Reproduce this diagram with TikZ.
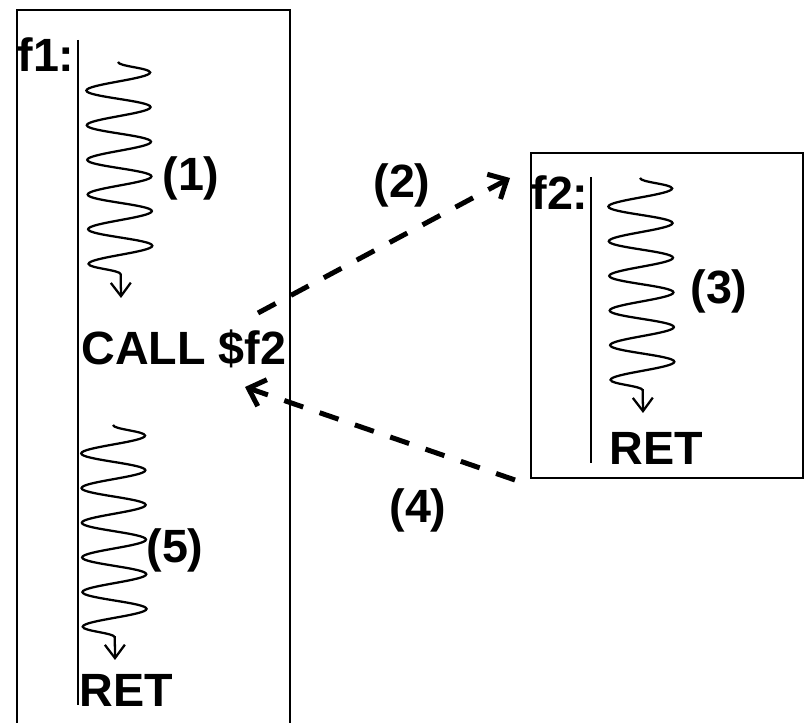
\documentclass[tikz,border=0pt]{standalone}
\usepackage{fontspec}
\setmainfont{Liberation Sans}
\usetikzlibrary{arrows.meta,decorations.pathmorphing}
\tikzset{lbl/.style={font=\fontsize{35}{40}\selectfont\bfseries,inner sep=0pt},
 procbox/.style={draw,line width=1.5pt},
 wave/.style={decorate,decoration={snake,amplitude=24pt,segment length=26pt,post length=14pt},
  line width=1.7pt,-{Straight Barb[length=10pt,width=15pt]}},
 jump/.style={line width=3.75pt,dash pattern=on 15pt off 13pt,-{Straight Barb[length=11pt,width=21pt]}}}

\begin{document}
\begin{tikzpicture}[x=0.75pt,y=-0.75pt]
\useasboundingbox (0,0) rectangle (804,723);
\begin{scope}
\clip (0,0) rectangle (804,723);
% the two functions
\draw[procbox] (17,10) rectangle (290,740);
\draw[procbox] (531,153) rectangle (802.5,478);
\end{scope}
\draw[line width=1.5pt] (78,40)--(78,705);
\draw[line width=1.5pt] (591,177)--(591,463);
\node[lbl] (f1) at (46,55) {f1:};
\node[lbl] (f2) at (560,193) {f2:};
\node[lbl] (call) at (184,349) {CALL \$f2};
\node[lbl] (ret1) at (126,690) {RET};
\node[lbl] (ret2) at (656,448) {RET};
\foreach \k/\x/\y in {1/191/178,2/402/185,3/719/291,4/418/510,5/175/550}
 \node[lbl] (s\k) at (\x,\y) {(\k)};
% work done in each part
\foreach \n/\x/\y/\u/\v in {1/118/62/121/298,3/640/178/643/413,5/113/425/115/660}{
 \coordinate (w\n a) at (\x,\y);
 \coordinate (w\n b) at (\u,\v);
 \draw[wave] (w\n a)--(w\n b);
}
% call and return
\coordinate (go) at (258,313);
\coordinate (in) at (510,178);
\coordinate (back) at (515,480);
\coordinate (out) at (245,387);
\draw[jump] (go)--(in);
\draw[jump] (back)--(out);
\end{tikzpicture}
\end{document}
